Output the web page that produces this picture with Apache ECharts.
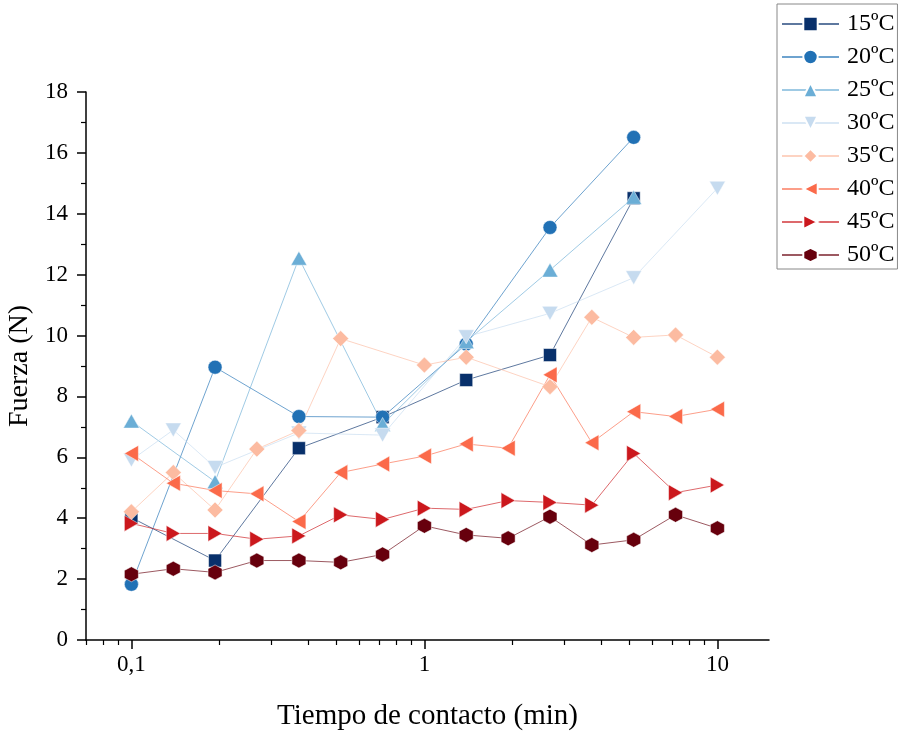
<!DOCTYPE html>
<html><head><meta charset="utf-8">
<script src="https://cdn.jsdelivr.net/npm/echarts@6/dist/echarts.min.js"></script>
<style>html,body{margin:0;padding:0;background:#fff}#c{width:901px;height:731px}</style>
</head><body><div id="c"></div>
<script>
var times = [0.1, 0.139, 0.193, 0.268, 0.373, 0.518, 0.720, 1, 1.389, 1.931, 2.683, 3.728, 5.179, 7.197, 10];
var names = ['15ºC','20ºC','25ºC','30ºC','35ºC','40ºC','45ºC','50ºC'];
var s15 = [4.02, null, 2.61, null, 6.30, null, 7.32, null, 8.54, null, 9.36, null, 14.51, null, null];
var s20 = [1.83, null, 8.96, null, 7.34, null, 7.32, null, 9.72, null, 13.55, null, 16.51, null, null];
var s25 = [7.19, null, 5.20, null, 12.54, null, 7.08, null, 9.80, null, 12.15, null, 14.54, null, null];
var s30 = [5.91, 6.90, 5.67, null, 6.80, null, 6.73, null, 9.96, null, 10.73, null, 11.90, null, 14.84];
var s35 = [4.21, 5.50, 4.27, 6.27, 6.88, 9.90, null, 9.03, 9.29, null, 8.32, 10.60, 9.94, 10.02, 9.29];
var s40 = [6.13, 5.15, 4.91, 4.80, 3.89, 5.50, 5.78, 6.04, 6.44, 6.30, 8.71, 6.48, 7.50, 7.34, 7.58];
var s45 = [3.83, 3.50, 3.50, 3.31, 3.42, 4.11, 3.96, 4.33, 4.29, 4.58, 4.52, 4.43, 6.13, 4.84, 5.09];
var s50 = [2.16, 2.34, 2.22, 2.61, 2.61, 2.55, 2.81, 3.75, 3.45, 3.34, 4.05, 3.12, 3.29, 4.11, 3.67];
var majorTicks = [0.1, 1, 10];
var minorTicks = [0.07,0.08,0.09,0.2,0.3,0.4,0.5,0.6,0.7,0.8,0.9,2,3,4,5,6,7,8,9];

var allVals = [s15,s20,s25,s30,s35,s40,s45,s50];
var colors = ['#08306b','#2171b5','#6baed6','#c6dbef','#fcbba1','#fb6a4a','#cb181d','#67000d'];
var symbols = ['rect','circle','path://M50,0 L100,87 L0,87 Z','path://M0,0 L100,0 L50,87 Z','diamond',
  'path://M0,50 L87,0 L87,100 Z','path://M0,0 L87,50 L0,100 Z',
  'path://M50,0 L93.3,25 L93.3,75 L50,100 L6.7,75 L6.7,25 Z'];
var sizes = [13, 14, [16,14], [16,14], 16, [14,16], [14,16], [14,15]];
var FONT = '"Liberation Serif", "Times New Roman", serif';

var series = names.map(function(n, i){
  var d = [];
  allVals[i].forEach(function(v, j){ if (v !== null) d.push([times[j], v]); });
  return {
    name: n, type: 'line', data: d, xAxisIndex: 0, yAxisIndex: 0,
    symbol: symbols[i], symbolSize: sizes[i], showSymbol: true,
    itemStyle: {color: colors[i], borderColor: '#fff', borderWidth: 0.5},
    lineStyle: {color: colors[i], width: 1, opacity: 0.65},
    emphasis: {disabled: true}, animation: false
  };
});

var chart = echarts.init(document.getElementById('c'), null, {renderer: 'canvas'});
chart.setOption({
  backgroundColor: '#fff',
  animation: false,
  textStyle: {fontFamily: FONT, color: '#000'},
  grid: {left: 86, right: 132, top: 92, bottom: 91, containLabel: false, outerBoundsMode: 'none'},
  legend: {
    orient: 'vertical', left: 777, top: 4,
    data: names,
    itemWidth: 57, itemHeight: 18, itemGap: 9,
    padding: [8, 3, 2, 4],
    borderColor: '#888', borderWidth: 1,
    textStyle: {fontFamily: FONT, fontSize: 24, color: '#000', padding: [0,0,0,3]},
    selectedMode: false
  },
  xAxis: [{
    type: 'log', logBase: 10, min: 0.07, max: 15, position: 'bottom',
    name: 'Tiempo de contacto (min)', nameLocation: 'middle', nameGap: 62,
    nameTextStyle: {fontFamily: FONT, fontSize: 29, color: '#000'},
    axisLine: {show: true, lineStyle: {color: '#000', width: 1.5}},
    axisTick: {show: true, inside: false, length: 9, lineStyle: {color: '#000', width: 1.5}, customValues: majorTicks},
    axisLabel: {show: true, margin: 13, fontFamily: FONT, fontSize: 23, color: '#000', customValues: majorTicks,
      formatter: function(v){ return String(v).replace('.', ','); }},
    splitLine: {show: false}, minorTick: {show: false}, minorSplitLine: {show: false}
  }, {
    type: 'log', logBase: 10, min: 0.07, max: 15, position: 'bottom', gridIndex: 0,
    axisLine: {show: false},
    axisTick: {show: true, inside: false, length: 5, lineStyle: {color: '#000', width: 1.2}, customValues: minorTicks},
    axisLabel: {show: false},
    splitLine: {show: false}
  }],
  yAxis: [{
    type: 'value', min: 0, max: 18, interval: 2,
    name: 'Fuerza (N)', nameLocation: 'middle', nameGap: 42,
    nameTextStyle: {fontFamily: FONT, fontSize: 28, color: '#000'},
    axisLine: {show: true, lineStyle: {color: '#000', width: 1.5}},
    axisTick: {show: true, inside: false, length: 9, lineStyle: {color: '#000', width: 1.5}},
    minorTick: {show: true, splitNumber: 2, length: 5, lineStyle: {color: '#000', width: 1.2}},
    axisLabel: {show: true, margin: 18, fontFamily: FONT, fontSize: 23, color: '#000'},
    splitLine: {show: false}
  }],
  series: series
});
</script></body></html>
